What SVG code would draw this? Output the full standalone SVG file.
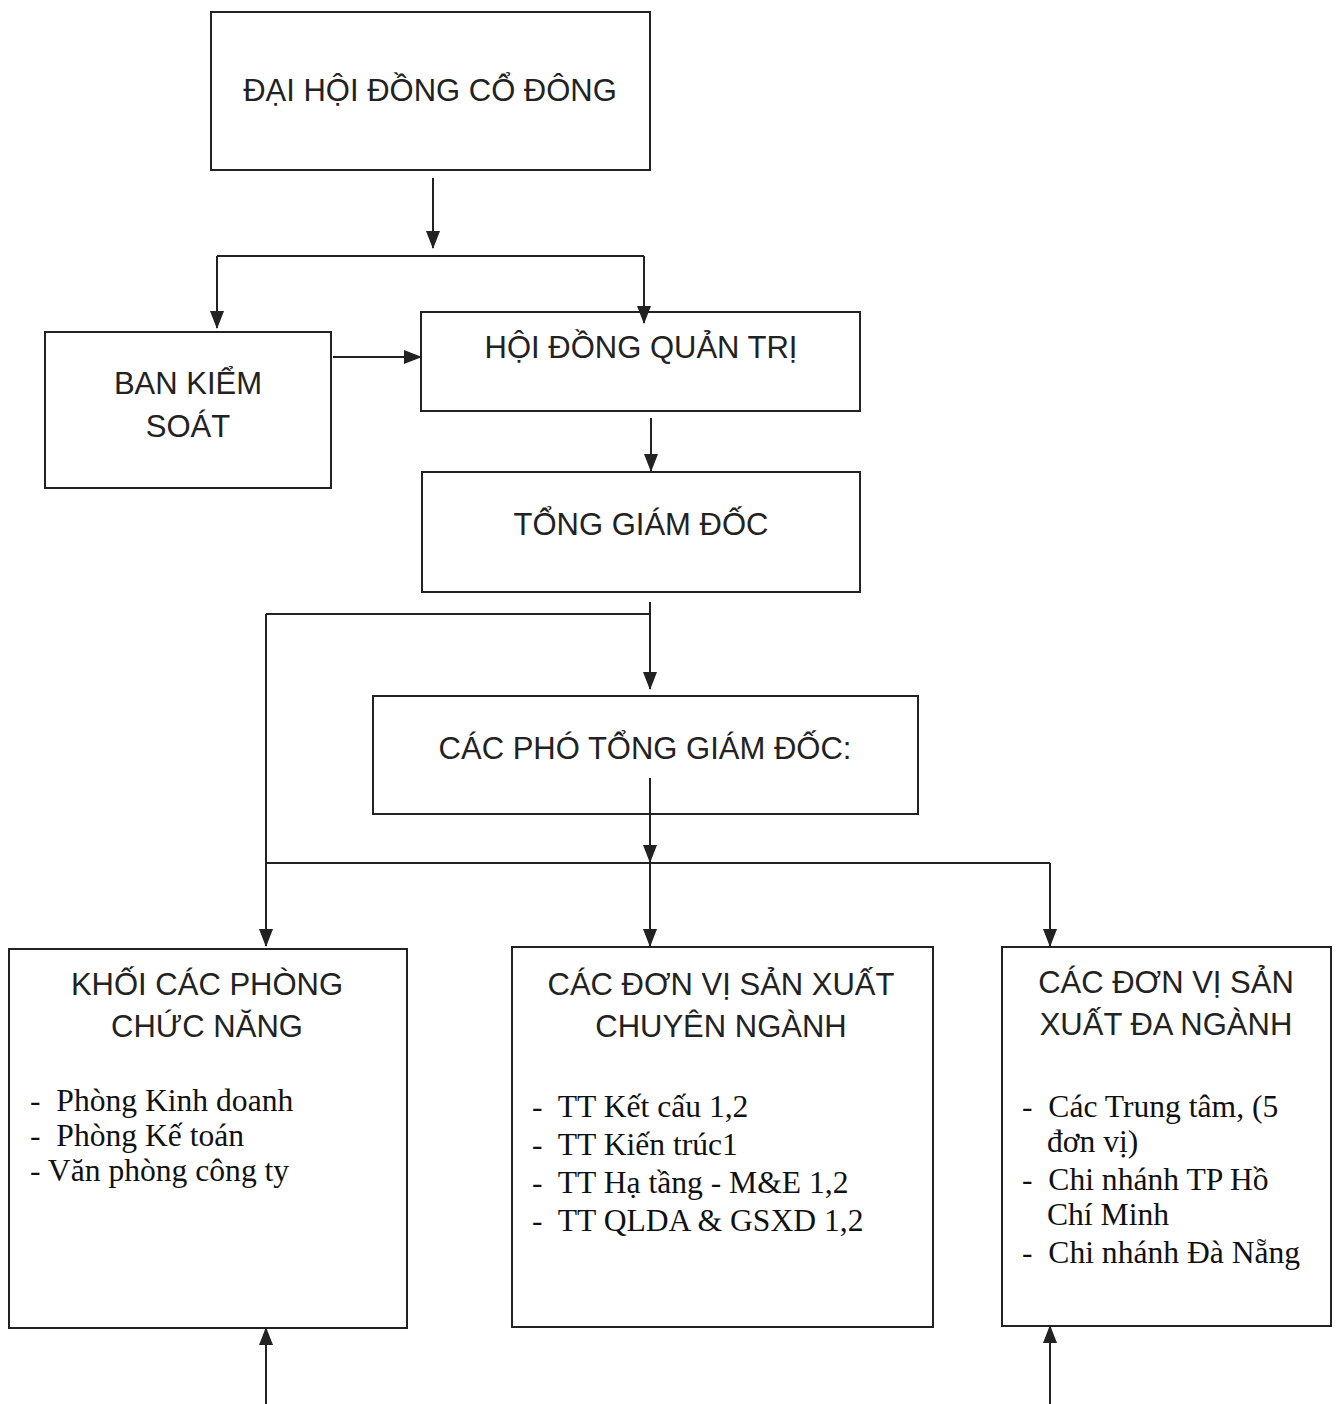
<svg xmlns="http://www.w3.org/2000/svg" width="1336" height="1404" viewBox="0 0 1336 1404">
<defs>
<marker id="ah" markerUnits="userSpaceOnUse" markerWidth="18" markerHeight="14" refX="17" refY="7" orient="auto" viewBox="0 0 18 14">
<path d="M0,0 L18,7 L0,14 Z" fill="#222"/>
</marker>
<style>
.box{fill:#fff;stroke:#222;stroke-width:2}
.ln{fill:none;stroke:#222;stroke-width:2}
.ar{fill:none;stroke:#222;stroke-width:2;marker-end:url(#ah)}
.h{font-family:"Liberation Sans",Arial,sans-serif;font-size:31px;fill:#222;text-anchor:middle}
.t{font-family:"Liberation Serif","Times New Roman",serif;font-size:31.6px;fill:#111}
</style>
</defs>
<rect width="1336" height="1404" fill="#fff"/>
<g id="dhdcd">
<rect class="box" x="211" y="12" width="439" height="158"/>
<text class="h" x="430" y="101">ĐẠI HỘI ĐỒNG CỔ ĐÔNG</text>
</g>
<g id="bks">
<rect class="box" x="45" y="332" width="286" height="156"/>
<text class="h" x="188" y="394">BAN KIỂM</text>
<text class="h" x="188" y="437">SOÁT</text>
</g>
<g id="hdqt">
<rect class="box" x="421" y="312" width="439" height="99"/>
<text class="h" x="641" y="358">HỘI ĐỒNG QUẢN TRỊ</text>
</g>
<g id="tgd">
<rect class="box" x="422" y="472" width="438" height="120"/>
<text class="h" x="641" y="535">TỔNG GIÁM ĐỐC</text>
</g>
<g id="ptgd">
<rect class="box" x="373" y="696" width="545" height="118"/>
<text class="h" x="645" y="759">CÁC PHÓ TỔNG GIÁM ĐỐC:</text>
</g>
<g id="khoi">
<rect class="box" x="9" y="949" width="398" height="379"/>
<text class="h" x="207" y="995">KHỐI CÁC PHÒNG</text>
<text class="h" x="207" y="1037">CHỨC NĂNG</text>
<text class="t" x="30" y="1111" xml:space="preserve">-  Phòng Kinh doanh</text>
<text class="t" x="30" y="1146" xml:space="preserve">-  Phòng Kế toán</text>
<text class="t" x="30" y="1181">- Văn phòng công ty</text>
</g>
<g id="chuyen">
<rect class="box" x="512" y="947" width="421" height="380"/>
<text class="h" x="721" y="995">CÁC ĐƠN VỊ SẢN XUẤT</text>
<text class="h" x="721" y="1037">CHUYÊN NGÀNH</text>
<text class="t" x="532" y="1117" xml:space="preserve">-  TT Kết cấu 1,2</text>
<text class="t" x="532" y="1155" xml:space="preserve">-  TT Kiến trúc1</text>
<text class="t" x="532" y="1193" xml:space="preserve">-  TT Hạ tầng - M&amp;E 1,2</text>
<text class="t" x="532" y="1231" xml:space="preserve">-  TT QLDA &amp; GSXD 1,2</text>
</g>
<g id="da">
<rect class="box" x="1002" y="947" width="329" height="379"/>
<text class="h" x="1166" y="993">CÁC ĐƠN VỊ SẢN</text>
<text class="h" x="1166" y="1035">XUẤT ĐA NGÀNH</text>
<text class="t" x="1022" y="1117" xml:space="preserve">-  Các Trung tâm, (5</text>
<text class="t" x="1047" y="1152">đơn vị)</text>
<text class="t" x="1022" y="1190" xml:space="preserve">-  Chi nhánh TP Hồ</text>
<text class="t" x="1047" y="1225">Chí Minh</text>
<text class="t" x="1022" y="1263" xml:space="preserve">-  Chi nhánh Đà Nẵng</text>
</g>
<g id="connectors">
<path class="ar" d="M433,178 L433,248"/>
<path class="ln" d="M217,256 L644,256"/>
<path class="ar" d="M217,256 L217,328"/>
<path class="ar" d="M644,256 L644,323"/>
<path class="ar" d="M333,357 L421,357"/>
<path class="ar" d="M651,418 L651,471"/>
<path class="ar" d="M650,602 L650,689"/>
<path class="ln" d="M266,614 L650,614"/>
<path class="ln" d="M266,863 L1050,863"/>
<path class="ar" d="M266,614 L266,946"/>
<path class="ar" d="M650,778 L650,862"/>
<path class="ar" d="M650,863 L650,946"/>
<path class="ar" d="M1050,863 L1050,946"/>
<path class="ar" d="M266,1404 L266,1328"/>
<path class="ar" d="M1050,1404 L1050,1326"/>
</g>
</svg>
